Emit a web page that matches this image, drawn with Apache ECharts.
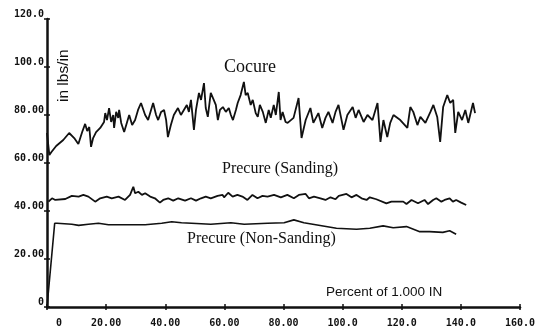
<!DOCTYPE html>
<html>
<head>
<meta charset="utf-8">
<script src="https://cdn.jsdelivr.net/npm/echarts@6/dist/echarts.min.js"></script>
<style>
  html, body { margin: 0; padding: 0; background: #fff; }
  #chart { width: 549px; height: 331px; }
</style>
</head>
<body>
<div id="chart"></div>
<script>
// Peel strength vs. position along the 1.000 IN specimen
const xTicks = [0, 20, 40, 60, 80, 100, 120, 140, 160];
const yTicks = [0, 20, 40, 60, 80, 100, 120];

// Cocure
const cocureX = [0, 0.8, 1.5, 3.1, 5.5, 7.5, 9.2, 10.6, 11.9, 12.9, 13.6, 14.3, 14.9, 15.6, 16.6, 18.0, 19.3, 19.7, 20.3, 21.0,
  21.7, 22.4, 22.7, 23.4, 24.1, 24.4, 25.1, 26.1, 27.1, 27.8, 28.8, 29.8, 30.8, 31.8, 33.2, 34.2, 35.2, 35.9, 36.9, 37.6,
  38.6, 39.6, 40.3, 40.9, 41.9, 42.9, 44.3, 45.3, 46.3, 47.3, 48.0, 48.7, 49.7, 50.4, 51.4, 52.1, 53.1, 53.7, 54.4, 55.1,
  55.4, 56.4, 57.1, 57.8, 58.5, 59.5, 60.5, 61.5, 62.2, 62.9, 63.9, 64.5, 65.5, 66.6, 67.2, 67.9, 68.9, 69.6, 70.6, 71.3,
  72.0, 73.0, 74.0, 75.0, 75.7, 76.7, 77.4, 78.4, 79.0, 79.7, 80.7, 81.4, 83.4, 85.1, 86.1, 87.5, 89.1, 90.1, 91.8, 93.1,
  94.2, 95.2, 96.6, 97.6, 98.6, 100.3, 101.6, 103.4, 104.4, 105.4, 107.1, 108.4, 110.1, 111.8, 112.8, 113.8, 115.1, 116.1, 117.2, 119.5,
  121.9, 122.9, 123.9, 125.3, 126.3, 128.0, 129.7, 130.7, 132.0, 133.0, 134.0, 135.4, 136.4, 137.4, 138.1, 139.1, 140.4, 141.5, 142.5, 144.1,
  144.8];
const cocureY = [72.5, 63.3, 64.6, 67.1, 69.6, 72.5, 70.4, 67.9, 72.9, 76.3, 73.3, 75.0, 66.7, 70.4, 72.9, 74.6, 77.1, 80.8, 77.9, 82.9,
  77.1, 80.0, 74.6, 81.3, 78.8, 82.1, 76.7, 72.9, 77.1, 80.0, 75.8, 77.9, 82.1, 85.0, 80.0, 77.9, 82.1, 85.0, 80.0, 77.9,
  81.3, 82.1, 77.9, 70.8, 75.8, 80.0, 82.9, 80.0, 82.1, 84.2, 81.3, 86.3, 73.8, 82.1, 89.2, 86.3, 93.3, 82.9, 79.2, 86.3,
  89.2, 86.3, 84.2, 77.9, 82.1, 83.3, 81.3, 82.9, 80.0, 77.9, 82.1, 85.0, 88.3, 93.8, 88.3, 89.2, 84.2, 86.3, 80.8, 79.2,
  84.2, 81.3, 76.7, 82.1, 78.8, 84.2, 80.0, 89.6, 77.9, 81.3, 77.1, 76.7, 78.8, 87.1, 70.4, 77.9, 82.9, 76.7, 80.8, 74.6,
  78.8, 81.3, 76.7, 81.3, 84.2, 73.8, 80.0, 83.3, 78.8, 82.1, 77.1, 80.0, 77.9, 85.0, 68.8, 77.9, 70.8, 76.7, 80.0, 77.9,
  74.6, 83.3, 81.3, 75.8, 79.2, 76.7, 81.3, 84.2, 79.2, 68.8, 83.3, 88.3, 85.0, 86.3, 72.5, 81.3, 77.9, 82.1, 76.7, 85.0,
  80.8];

// Precure (Sanding)
const sandingX = [0.5, 1.7, 2.8, 6.2, 8.4, 10.7, 12.3, 14.0, 16.3, 18.0, 20.2, 21.9, 24.2, 26.4, 28.1, 29.2, 29.8, 30.9, 32.1, 33.2,
  34.9, 36.5, 38.2, 39.3, 41.0, 42.7, 44.4, 46.7, 48.7, 50.4, 52.1, 53.7, 55.4, 57.7, 59.4, 59.9, 61.3, 62.8, 64.4, 66.1,
  67.8, 69.5, 71.2, 72.9, 74.6, 76.8, 79.1, 81.3, 83.5, 85.2, 87.5, 88.6, 90.3, 92.5, 94.2, 95.9, 97.6, 98.7, 101.3, 103.0,
  104.7, 106.4, 108.1, 109.2, 111.4, 114.8, 116.5, 120.5, 121.6, 123.3, 125.5, 127.7, 128.9, 130.6, 131.7, 133.4, 134.5, 136.2, 137.3, 138.4,
  140.1, 141.8];
const sandingY = [43.9, 45.3, 44.6, 45.0, 46.3, 46.0, 46.7, 46.0, 43.9, 45.3, 46.0, 45.3, 46.0, 44.6, 46.7, 50.1, 47.4, 48.0, 46.7, 47.4,
  46.0, 45.3, 43.5, 44.6, 45.3, 44.3, 45.3, 44.3, 45.3, 44.3, 45.3, 46.0, 45.3, 46.3, 46.7, 45.7, 47.6, 46.0, 46.7, 46.0,
  44.6, 46.7, 45.3, 46.3, 46.0, 46.7, 45.7, 46.7, 45.3, 46.7, 47.1, 45.3, 46.0, 45.3, 44.6, 45.7, 44.9, 46.3, 47.1, 45.7,
  46.7, 45.3, 44.6, 45.7, 44.9, 43.2, 43.9, 43.9, 42.9, 44.6, 43.2, 44.6, 42.9, 44.6, 45.3, 43.9, 44.6, 45.3, 43.9, 44.6,
  43.5, 42.5];

// Precure (Non-Sanding)
const nonSandingX = [0, 2.6, 3.4, 8.4, 10.7, 14.0, 17.4, 20.8, 27.5, 33.2, 38.8, 42.2, 45.5, 48.9, 55.4, 62.2, 66.7, 74.6, 80.2, 83.5,
  86.9, 91.4, 97.9, 104.7, 109.2, 113.7, 117.1, 121.6, 126.1, 129.4, 133.9, 136.2, 138.4];
const nonSandingY = [0, 34.9, 34.9, 34.5, 34.0, 34.5, 34.9, 34.3, 34.3, 34.3, 34.9, 35.5, 35.1, 34.9, 34.5, 35.1, 34.5, 34.9, 35.1, 36.3,
  35.1, 34.2, 32.8, 32.4, 32.8, 33.8, 33.0, 33.5, 31.4, 31.4, 31.1, 31.8, 30.3];

const zip = (xs, ys) => xs.map((x, i) => [x, ys[i]]);

function tickText(v) {
  if (v === 0) return '0';
  return v >= 100 ? v.toFixed(1) : v.toFixed(2);
}

const INK = '#111';
const monoLabel = {
  fontFamily: 'DejaVu Sans Mono',
  fontWeight: 'bold',
  fontSize: 10,
  color: INK
};
const grid = { left: 47, right: 29, top: 19, bottom: 24 };

const lineSeries = (name, xs, ys, w) => ({
  name: name,
  type: 'line',
  xAxisIndex: 0,
  yAxisIndex: 0,
  data: zip(xs, ys),
  showSymbol: false,
  symbol: 'none',
  lineStyle: { color: INK, width: w },
  z: 3
});

const chart = echarts.init(document.getElementById('chart'), null, { renderer: 'canvas' });

chart.setOption({
  animation: false,
  backgroundColor: '#fff',
  grid: grid,
  xAxis: [
    {
      type: 'value', min: xTicks[0], max: xTicks[xTicks.length - 1], interval: 20, position: 'bottom',
      axisLine: { show: true, onZero: false, lineStyle: { color: INK, width: 2.5 } },
      axisTick: { show: true, length: 3, lineStyle: { color: INK, width: 1.5 } },
      splitLine: { show: false },
      axisLabel: {
        ...monoLabel,
        margin: 11,
        formatter: v => v === 0 ? '{z|0}' : tickText(v),
        rich: { z: { ...monoLabel, padding: [0, 0, 0, 24] } }
      }
    },
    {
      type: 'value', min: xTicks[0], max: xTicks[xTicks.length - 1], interval: 20, position: 'bottom', offset: 0,
      axisLine: { show: false },
      axisTick: { show: true, inside: true, length: 3, lineStyle: { color: INK, width: 1.5 } },
      axisLabel: { show: false },
      splitLine: { show: false }
    }
  ],
  yAxis: [
    {
      type: 'value', min: yTicks[0], max: yTicks[yTicks.length - 1], interval: 20, position: 'left',
      axisLine: { show: true, onZero: false, lineStyle: { color: INK, width: 2.5 } },
      axisTick: { show: true, length: 3, lineStyle: { color: INK, width: 1.5 } },
      splitLine: { show: false },
      axisLabel: {
        ...monoLabel,
        margin: 3,
        verticalAlign: 'bottom',
        formatter: tickText
      }
    },
    {
      type: 'value', min: yTicks[0], max: yTicks[yTicks.length - 1], interval: 20, position: 'left', offset: 0,
      axisLine: { show: false },
      axisTick: { show: true, inside: true, length: 3, lineStyle: { color: INK, width: 1.5 } },
      axisLabel: { show: false },
      splitLine: { show: false }
    }
  ],
  series: [
    lineSeries('Cocure', cocureX, cocureY, 1.8),
    lineSeries('Precure (Sanding)', sandingX, sandingY, 1.8),
    lineSeries('Precure (Non-Sanding)', nonSandingX, nonSandingY, 1.6)
  ],
  graphic: [
    {
      type: 'text', left: 224, top: 58,
      style: { text: 'Cocure', font: '18px "Liberation Serif"', fill: INK }
    },
    {
      type: 'text', left: 222, top: 161,
      style: { text: 'Precure (Sanding)', font: '16px "Liberation Serif"', fill: INK }
    },
    {
      type: 'text', left: 187, top: 231,
      style: { text: 'Precure (Non-Sanding)', font: '16px "Liberation Serif"', fill: INK }
    },
    {
      type: 'text', left: 326, top: 285,
      style: { text: 'Percent of 1.000 IN', font: '13.5px "Liberation Sans"', fill: INK }
    },
    {
      type: 'text', x: 56, y: 102, rotation: Math.PI / 2,
      style: { text: 'in lbs/in', font: '15.5px "Liberation Sans"', fill: INK, textVerticalAlign: 'top' }
    }
  ]
});
</script>
</body>
</html>
